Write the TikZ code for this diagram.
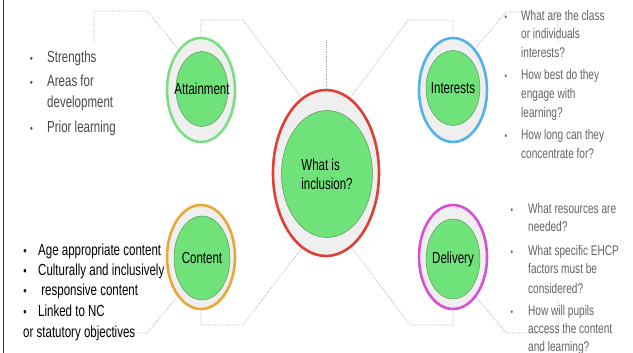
\documentclass[tikz,border=0pt]{standalone}
\usepackage{fontspec}
\setmainfont{Liberation Sans}[FakeStretch=0.72]
\usepackage{tikz}
\usetikzlibrary{shapes.geometric}

\definecolor{ringfill}{RGB}{239,239,239}
\definecolor{corefill}{RGB}{111,226,122}
\definecolor{coreedge}{RGB}{95,150,95}
\definecolor{ringred}{RGB}{221,64,52}
\definecolor{ringgreen}{RGB}{122,222,130}
\definecolor{ringblue}{RGB}{84,178,235}
\definecolor{ringorange}{RGB}{232,168,56}
\definecolor{ringpink}{RGB}{214,80,214}
\definecolor{listgray}{RGB}{72,72,72}

\tikzset{
  ring/.style={ellipse, fill=ringfill, line width=2.6pt, inner sep=0pt,
    minimum width=68pt, minimum height=104pt},
  core/.style={ellipse, draw=coreedge, line width=0.5pt, fill=corefill, inner sep=0pt,
    minimum width=52pt, minimum height=75pt},
  lbl/.style={inner sep=0pt, font=\fontsize{16}{19}\selectfont},
  dots/.style={densely dotted, gray!65, line width=0.7pt},
  toptext/.style={anchor=base west, inner sep=0pt, text=listgray, font=\fontsize{16}{18}\selectfont},
  sidetext/.style={anchor=base west, inner sep=0pt, text=listgray!85!white, font=\fontsize{14}{16}\selectfont},
  basetext/.style={anchor=base west, inner sep=0pt, font=\fontsize{16}{18}\selectfont},
}

\begin{document}
\begin{tikzpicture}[x=1pt,y=-1pt]
\useasboundingbox (0,0) rectangle (633,353);

% Frame edge
\draw[line width=1.2pt, black!80] (3.5,0) -- (3.5,353);

% Centre circle
\node[ring, draw=ringred, minimum width=106pt, minimum height=166pt] (inc) at (326,173) {};
\node[core, minimum width=91pt, minimum height=127pt] (incc) at (327,174) {};
\node[lbl, align=left] (inct) at (incc) {What is\\inclusion?};

% Four circles
\node[ring, draw=ringgreen] (att) at (201,90) {};
\node[core] (attc) at (202,89) {};
\node[lbl] (attt) at (attc) {Attainment};
\node[ring, draw=ringblue] (int) at (453,90) {};
\node[core, minimum width=54pt] (intc) at (453,88) {};
\node[lbl] (intt) at (intc) {Interests};
\node[ring, draw=ringorange] (con) at (201,257) {};
\node[core, minimum width=56pt, minimum height=84pt] (conc) at (202,258) {};
\node[lbl] (cont) at (conc) {Content};
\node[ring, draw=ringpink] (del) at (453,257) {};
\node[core, minimum width=54pt, minimum height=80pt] (delc) at (453,259) {};
\node[lbl] (delt) at (delc) {Delivery};

% Corner points of the dotted leaders
\coordinate (ta1) at (147,11);  \coordinate (ta2) at (94,11);  \coordinate (ta3) at (94,43);
\coordinate (ca1) at (201,20);  \coordinate (ca2) at (243,20);
\coordinate (ci1) at (408,20);  \coordinate (ci2) at (453,20);
\coordinate (ti1) at (506,12);  \coordinate (ti2) at (558,12); \coordinate (ti3) at (558,43);
\coordinate (tc1) at (147,333); \coordinate (tc2) at (94,333); \coordinate (tc3) at (94,305);
\coordinate (cc1) at (201,325); \coordinate (cc2) at (243,325);
\coordinate (cd1) at (410,325); \coordinate (cd2) at (453,325);
\coordinate (td1) at (506,333); \coordinate (td2) at (558,333); \coordinate (td3) at (558,300);
\coordinate (stub) at (326,40);

% Dotted leaders
\draw[dots] (att.119) -- (ta1) -- (ta2) -- (ta3);
\draw[dots] (att.north) -- (ca1) -- (ca2) -- (inc.108);
\draw[dots] (inc.north) -- (stub);
\draw[dots] (inc.72) -- (ci1) -- (ci2) -- (int.north);
\draw[dots] (int.62) -- (ti1) -- (ti2) -- (ti3);
\draw[dots] (con.-121) -- (tc1) -- (tc2) -- (tc3);
\draw[dots] (con.south) -- (cc1) -- (cc2) -- (inc.-108);
\draw[dots] (inc.-71) -- (cd1) -- (cd2) -- (del.south);
\draw[dots] (del.-60) -- (td1) -- (td2) -- (td3);

% Attainment list
\foreach \y/\t [count=\i] in {63/Strengths, 87/Areas for, 108/development, 133/Prior learning}
  \node[toptext] (al\i) at (47,\y) {\t};
\foreach \y [count=\i] in {63,87,133}
  \node[toptext, anchor=base] (ab\i) at (31.5,\y) {\fontsize{11}{12}\selectfont\textbullet};

% Interests list
\foreach \y/\t [count=\i] in {21/What are the class, 39/or individuals, 58/interests?,
    80/How best do they, 99/engage with, 118/learning?,
    140/How long can they, 158/concentrate for?}
  \node[sidetext] (il\i) at (521,\y) {\t};
\foreach \y [count=\i] in {21,80,140}
  \node[sidetext, anchor=base] (ib\i) at (506,\y) {\fontsize{10}{12}\selectfont\textbullet};

% Content list
\foreach \y/\t [count=\i] in {255/Age appropriate content, 275/Culturally and inclusively,
    295/{\ responsive content}, 316/Linked to NC}
  \node[basetext] (cl\i) at (38,\y) {\t};
\node[basetext] (cl5) at (23,337) {or statutory objectives};
\foreach \y [count=\i] in {255,275,295,316}
  \node[basetext, anchor=base] (cb\i) at (25,\y) {\fontsize{13}{12}\selectfont\textbullet};

% Delivery list
\foreach \y/\t [count=\i] in {214/What resources are, 232/needed?, 255/What specific EHCP,
    273/factors must be, 293/considered?, 315/How will pupils,
    333/access the content, 351/and learning?}
  \node[sidetext] (dl\i) at (528,\y) {\t};
\foreach \y [count=\i] in {214,255,315}
  \node[sidetext, anchor=base] (db\i) at (512,\y) {\fontsize{10}{12}\selectfont\textbullet};
\end{tikzpicture}
\end{document}
